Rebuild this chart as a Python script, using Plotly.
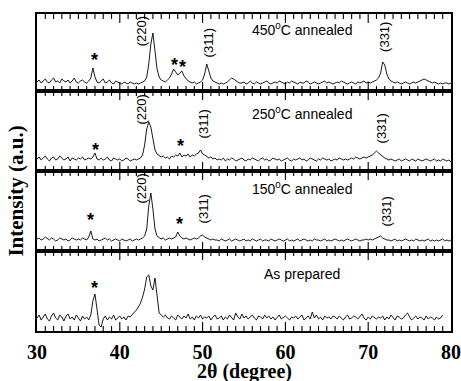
import numpy as np
import plotly.graph_objects as go
from plotly.subplots import make_subplots

# 2-theta grid start / step (degrees)
two_theta_start = 30.0
two_theta_step = 0.25

# Intensity (a.u.), one list per sample
i_450 = [9,11,8,10,12,9,8,11,13,9,10,8,12,10,9,11,8,10,13,9,8,10,11,9,8,10,13,
         23,
         14,9,
         8,10,12,8,9,11,8,7,10,9,8,7,9,8,7,9,8,7,8,7,8,
         9,10,14,27,47,58,40,22,14,11,10,9,11,13,17,22,19,16,18,20,15,12,10,9,8,9,7,8,9,11,17,27,21,13,10,9,8,7,8,7,8,9,11,13,12,10,9,8,
         8,9,7,8,10,8,7,9,8,7,8,9,10,8,7,8,9,8,10,9,
         8,7,9,8,10,9,8,7,9,8,8,10,9,7,8,9,8,7,8,9,
         10,8,9,8,7,8,9,8,10,9,8,7,8,9,8,7,9,8,9,10,
         8,9,8,9,10,11,13,
         18,29,26,17,12,10,9,8,
         9,8,7,8,9,8,7,8,9,8,9,10,11,12,11,10,9,8,9,8,7,8,7,8,8,7,8]

i_250 = [12,14,11,13,15,12,10,13,14,11,12,15,13,11,12,14,10,13,12,11,13,12,14,11,12,13,12,
         14,18,12,11,
         13,11,12,14,11,10,13,12,11,12,10,11,13,12,10,11,12,11,12,
         13,16,26,42,49,44,30,21,17,15,14,15,13,14,12,15,14,16,15,18,14,16,15,17,14,16,15,17,18,21,17,16,14,13,14,12,13,11,
         12,11,13,10,12,11,13,12,10,11,12,13,11,10,12,11,13,12,11,10,
         12,13,11,12,10,11,13,12,11,12,10,11,12,13,11,10,12,11,12,13,
         11,12,10,11,13,12,11,10,12,11,13,12,11,12,10,11,12,11,13,12,
         11,12,11,12,13,12,14,13,12,13,14,13,14,15,16,18,20,
         18,16,14,13,12,11,
         12,11,10,11,12,10,11,12,11,10,12,11,10,12,11,10,11,12,11,10,11,12,10,11,10,12,11,10,11,9]

i_150 = [12,13,11,12,14,12,11,13,12,10,11,13,12,11,12,10,11,13,12,11,12,11,13,12,11,
         14,20,12,11,
         12,10,11,12,13,11,12,10,11,12,11,10,12,11,10,11,12,10,11,12,11,12,
         13,15,22,45,58,42,22,15,13,12,13,11,12,13,12,13,14,19,15,13,12,13,12,11,12,13,12,13,15,16,14,13,12,11,12,11,
         11,10,12,11,10,11,12,10,11,12,11,10,11,12,10,11,10,12,11,10,
         11,12,10,11,11,10,12,11,10,11,12,11,10,11,12,10,11,10,11,12,
         10,11,12,11,10,11,10,12,11,11,10,11,12,10,11,10,11,12,11,10,
         11,10,11,12,11,10,11,12,11,10,11,11,12,11,12,11,12,13,14,15,
         13,12,11,
         11,10,11,12,10,11,10,11,12,11,10,11,10,12,11,10,11,10,11,12,10,11,10,11,10,11,12,10,11,10,11]

i_prep = [13,16,11,14,17,12,10,15,18,13,11,16,14,10,15,17,12,14,11,16,13,10,15,12,14,11,
          16,30,37,22,6,4,12,15,11,
          14,12,16,11,13,15,12,14,11,15,14,
          16,18,21,24,28,34,42,54,56,45,41,53,36,18,16,14,16,13,
          12,15,13,11,16,14,12,15,13,17,12,14,11,15,13,16,12,14,13,15,
          11,14,16,12,13,15,11,14,12,16,13,11,18,14,12,17,13,15,12,14,
          16,13,11,15,14,12,16,13,15,12,14,11,13,16,12,14,15,13,11,14,
          13,15,12,14,16,11,13,15,12,19,13,16,12,14,11,15,13,14,12,15,
          14,12,15,13,11,14,16,12,13,15,14,12,15,17,13,11,14,12,15,13,
          12,14,13,15,11,14,12,16,13,11,15,14,12,13,16,18,14,11,13,15,
          12,14,13,11,15,12,14,13,11,14,12,13,16]

series = [i_450, i_250, i_150, i_prep]
sample_labels = ["450<sup>0</sup>C annealed", "250<sup>0</sup>C annealed",
                 "150<sup>0</sup>C annealed", "As prepared"]
sample_label_y = [62, 58, 63, 57]
y_ranges = [77, 80, 80, 80]
major_ticks = [30, 40, 50, 60, 70, 80]
minor_ticks = [t for t in range(31, 80) if t % 10]

# peak labels: (row, 2theta, intensity, text, rotated)
peak_labels = [
    (1, 42.6, 60, "(220)", True), (1, 50.7, 48, "(311)", True), (1, 71.9, 54, "(331)", True),
    (1, 36.9, 31, "*", False), (1, 46.6, 26, "*", False), (1, 47.6, 24, "*", False),
    (2, 42.5, 61, "(220)", True), (2, 50.1, 47, "(311)", True), (2, 71.6, 43, "(331)", True),
    (2, 37.1, 21, "*", False), (2, 47.3, 25, "*", False),
    (3, 42.5, 62, "(220)", True), (3, 50.1, 42, "(311)", True), (3, 72.1, 39, "(331)", True),
    (3, 36.5, 31, "*", False), (3, 47.2, 27, "*", False),
    (4, 37.0, 43, "*", False),
]

fig = make_subplots(rows=4, cols=1, shared_xaxes=False, vertical_spacing=0,
                    row_heights=y_ranges)

for k, ys in enumerate(series):
    xr = "x" if k == 0 else f"x{k+1}"
    yr = "y" if k == 0 else f"y{k+1}"
    xs = two_theta_start + two_theta_step * np.arange(len(ys))
    fig.add_trace(go.Scatter(x=xs, y=ys, mode="lines",
                             line=dict(color="black", width=0.9),
                             showlegend=False, hoverinfo="skip"),
                  row=k + 1, col=1)
    # inward tick marks (bottom and top edge of each panel) as line markers,
    # clipped by the plot area so only the inner half shows
    for tick_list, size in ((major_ticks[1:-1], 13), (minor_ticks, 7)):
        n = len(tick_list)
        fig.add_trace(go.Scatter(x=tick_list + tick_list,
                                 y=[0] * n + [y_ranges[k]] * n,
                                 mode="markers", cliponaxis=True,
                                 marker=dict(symbol="line-ns", size=size, color="black",
                                             line=dict(color="black", width=1.1)),
                                 showlegend=False, hoverinfo="skip"),
                      row=k + 1, col=1)
    fig.update_yaxes(range=[0, y_ranges[k]], showticklabels=False, ticks="",
                     showgrid=False, zeroline=False, showline=True,
                     linecolor="black", linewidth=1.5, mirror=True,
                     row=k + 1, col=1)
    fig.update_xaxes(range=[30, 80], tickmode="array", tickvals=major_ticks,
                     ticks="", showgrid=False, zeroline=False, showline=True,
                     linecolor="black", linewidth=1.5, mirror=True, automargin=False,
                     showticklabels=(k == 3), ticklabelstandoff=2,
                     tickfont=dict(family="Liberation Serif, Times New Roman", size=20,
                                   color="black", weight="bold"),
                     row=k + 1, col=1)
    fig.add_annotation(x=62.0, y=sample_label_y[k], xref=xr, yref=yr,
                       text=sample_labels[k], showarrow=False,
                       font=dict(family="Liberation Sans, Arial", size=14, color="black"))

for row, xv, yv, txt, rot in peak_labels:
    xr = "x" if row == 1 else f"x{row}"
    yr = "y" if row == 1 else f"y{row}"
    if rot:
        fig.add_annotation(x=xv, y=yv, xref=xr, yref=yr, text=txt, textangle=-90,
                           showarrow=False,
                           font=dict(family="Liberation Sans, Arial", size=13, color="black"))
    else:
        fig.add_annotation(x=xv, y=yv, xref=xr, yref=yr, text="<b>*</b>",
                           showarrow=False,
                           font=dict(family="Liberation Sans, Arial", size=18, color="black"))

fig.add_annotation(xref="paper", yref="paper", x=0.5, y=-0.128, yanchor="middle",
                   text="<b>2θ (degree)</b>", showarrow=False,
                   font=dict(family="Liberation Serif, Times New Roman", size=20, color="black"))
fig.add_annotation(xref="paper", yref="paper", x=-0.053, y=0.44, xanchor="center",
                   yanchor="middle",
                   text="<b>Intensity (a.u.)</b>", textangle=-90, showarrow=False,
                   font=dict(family="Liberation Serif, Times New Roman", size=21, color="black"))

fig.update_layout(width=461, height=381, margin=dict(l=37, r=10, t=14, b=50, autoexpand=False),
                  plot_bgcolor="white", paper_bgcolor="white")

fig.write_html("out.html")
